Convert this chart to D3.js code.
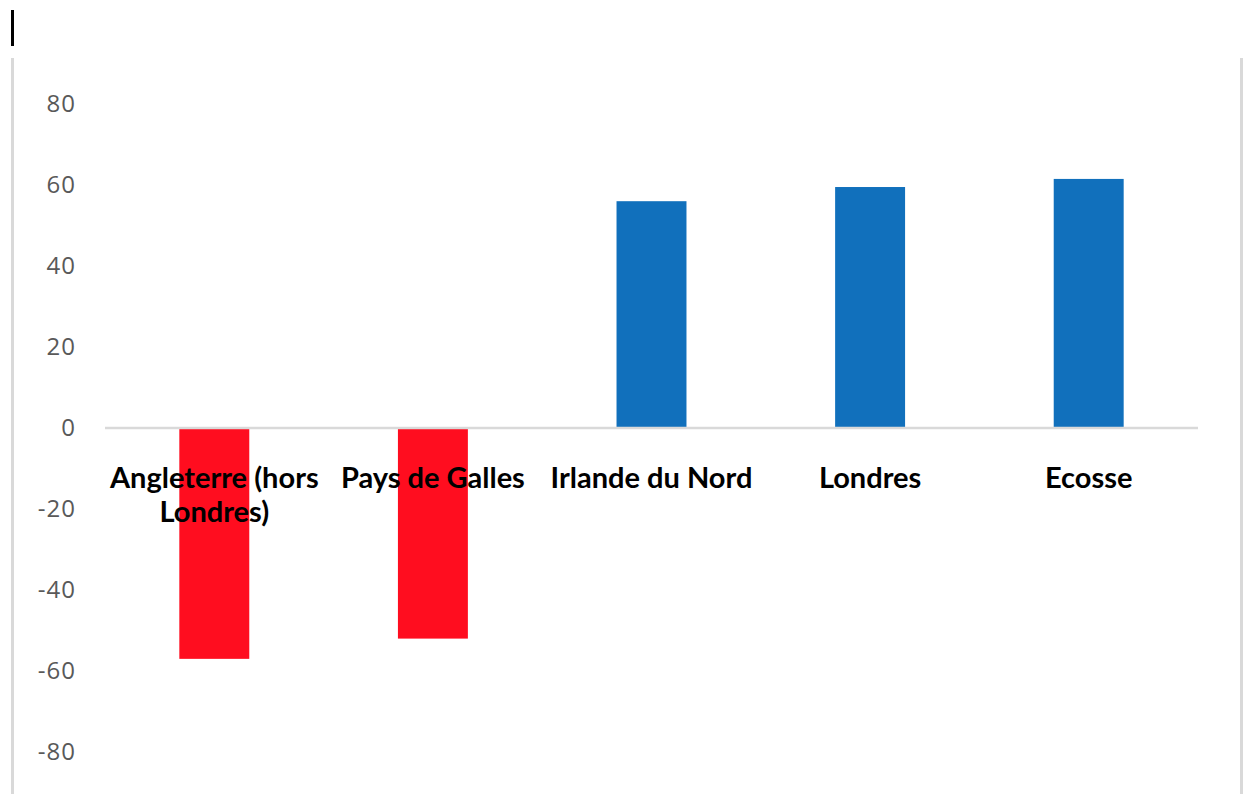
<!DOCTYPE html>
<html>
<head>
<meta charset="utf-8">
<script src="https://cdn.jsdelivr.net/npm/d3@7"></script>
<style>
  body { margin: 0; background: #fff; }
  svg { display: block; }
  .tick text { font-family: "Open Sans", sans-serif; }
</style>
</head>
<body>
<svg id="chart" width="1244" height="794"></svg>
<script>
// data
var regions = ["Angleterre (hors Londres)", "Pays de Galles", "Irlande du Nord", "Londres", "Ecosse"];
var labelLines = [["Angleterre (hors", "Londres)"], ["Pays de Galles"], ["Irlande du Nord"], ["Londres"], ["Ecosse"]];
var values = [-57, -52, 56, 59.5, 61.5];
var yTicks = [-80, -60, -40, -20, 0, 20, 40, 60, 80];

var svg = d3.select("#chart");

// frame bits
svg.append("rect").attr("x", 11).attr("y", 10).attr("width", 3).attr("height", 36).attr("fill", "#000");
svg.append("rect").attr("x", 11).attr("y", 58).attr("width", 3).attr("height", 736).attr("fill", "#d9d9d9");
svg.append("rect").attr("x", 1240).attr("y", 58).attr("width", 3).attr("height", 736).attr("fill", "#d9d9d9");

var x = d3.scaleBand()
  .domain(regions)
  .range([105, 1198])
  .paddingInner(0.68)
  .paddingOuter(0.34);

var y = d3.scaleLinear()
  .domain([-90, 90])
  .range([792.5, 63.5]);

// y axis, labels only
var yAxis = svg.append("g")
  .attr("transform", "translate(76,0)")
  .call(d3.axisLeft(y).tickValues(yTicks).tickSize(0).tickPadding(0)
    .tickFormat(function(d) { return String(d); }));
yAxis.select(".domain").remove();
yAxis.selectAll("text")
  .attr("fill", "#595959")
  .style("font-size", "24px")
  .style("letter-spacing", "1px");

// bars
svg.append("g")
  .selectAll("rect")
  .data(values)
  .enter().append("rect")
    .attr("x", function(d, i) { return x(regions[i]); })
    .attr("width", x.bandwidth())
    .attr("y", function(d) { return y(Math.max(0, d)); })
    .attr("height", function(d) { return Math.abs(y(d) - y(0)); })
    .attr("fill", function(d) { return d < 0 ? "#ff0d1f" : "#1170bc"; });

// zero line
svg.append("line")
  .attr("x1", 105).attr("x2", 1198)
  .attr("y1", y(0)).attr("y2", y(0))
  .attr("stroke", "#d9d9d9")
  .attr("stroke-width", 2.5);

// category labels (drawn over the bars)
var labels = svg.append("g")
  .selectAll("text")
  .data(regions)
  .enter().append("text")
    .attr("x", function(d) { return x(d) + x.bandwidth() / 2; })
    .attr("y", 488)
    .attr("text-anchor", "middle")
    .style("font-family", "Lato, sans-serif")
    .style("font-weight", "bold")
    .style("font-size", "29px")
    .attr("fill", "#000");

labels.each(function(d, i) {
  var t = d3.select(this);
  labelLines[i].forEach(function(line, k) {
    t.append("tspan")
      .attr("x", x(d) + x.bandwidth() / 2)
      .attr("dy", k === 0 ? 0 : 34)
      .text(line);
  });
});
</script>
</body>
</html>
